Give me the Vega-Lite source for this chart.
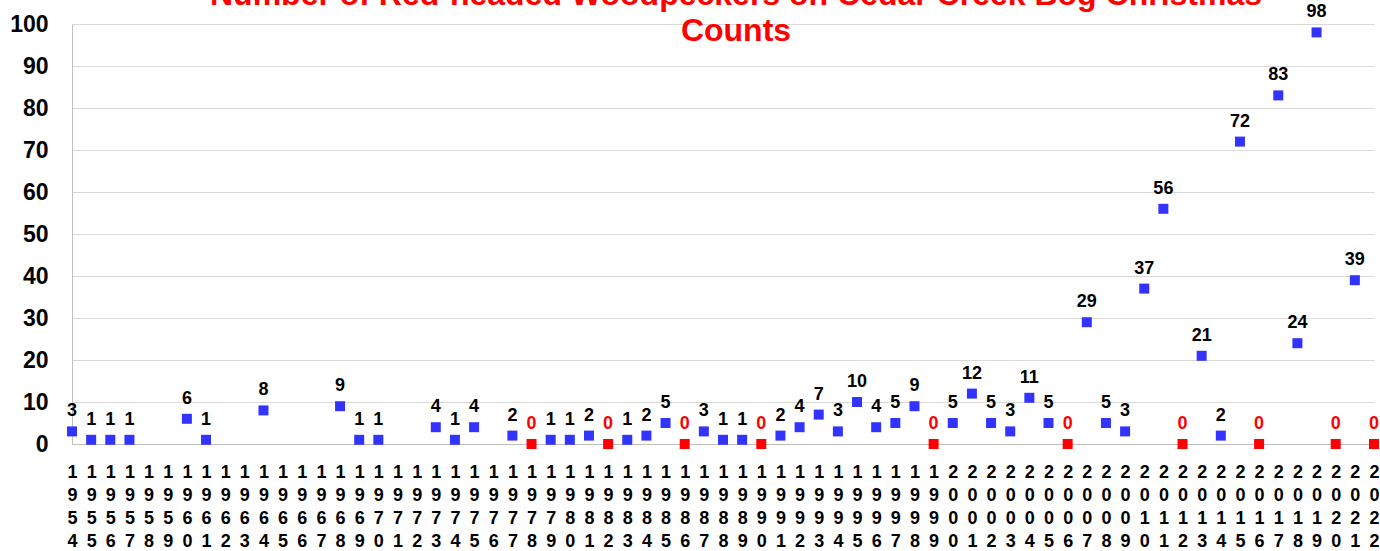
{
  "$schema": "https://vega.github.io/schema/vega-lite/v6.json",
  "width": 1302,
  "height": 420,
  "autosize": {"type": "none"},
  "padding": {"left": 72, "top": 24, "right": 6, "bottom": 107},
  "background": "white",
  "title": {
    "text": ["Number of Red-headed Woodpeckers on Cedar Creek Bog Christmas", "Counts"],
    "font": "Liberation Sans",
    "fontSize": 32,
    "fontWeight": "bold",
    "color": "#ff0000",
    "lineHeight": 36,
    "anchor": "middle",
    "offset": 0,
    "dx": 13,
    "dy": 45
  },
  "data": {
    "values": [
      {"year": 1954, "count": 3}, {"year": 1955, "count": 1}, {"year": 1956, "count": 1}, {"year": 1957, "count": 1},
      {"year": 1960, "count": 6}, {"year": 1961, "count": 1}, {"year": 1964, "count": 8}, {"year": 1968, "count": 9},
      {"year": 1969, "count": 1}, {"year": 1970, "count": 1}, {"year": 1973, "count": 4}, {"year": 1974, "count": 1},
      {"year": 1975, "count": 4}, {"year": 1977, "count": 2}, {"year": 1978, "count": 0}, {"year": 1979, "count": 1},
      {"year": 1980, "count": 1}, {"year": 1981, "count": 2}, {"year": 1982, "count": 0}, {"year": 1983, "count": 1},
      {"year": 1984, "count": 2}, {"year": 1985, "count": 5}, {"year": 1986, "count": 0}, {"year": 1987, "count": 3},
      {"year": 1988, "count": 1}, {"year": 1989, "count": 1}, {"year": 1990, "count": 0}, {"year": 1991, "count": 2},
      {"year": 1992, "count": 4}, {"year": 1993, "count": 7}, {"year": 1994, "count": 3}, {"year": 1995, "count": 10},
      {"year": 1996, "count": 4}, {"year": 1997, "count": 5}, {"year": 1998, "count": 9}, {"year": 1999, "count": 0},
      {"year": 2000, "count": 5}, {"year": 2001, "count": 12}, {"year": 2002, "count": 5}, {"year": 2003, "count": 3},
      {"year": 2004, "count": 11}, {"year": 2005, "count": 5}, {"year": 2006, "count": 0}, {"year": 2007, "count": 29},
      {"year": 2008, "count": 5}, {"year": 2009, "count": 3}, {"year": 2010, "count": 37}, {"year": 2011, "count": 56},
      {"year": 2012, "count": 0}, {"year": 2013, "count": 21}, {"year": 2014, "count": 2}, {"year": 2015, "count": 72},
      {"year": 2016, "count": 0}, {"year": 2017, "count": 83}, {"year": 2018, "count": 24}, {"year": 2019, "count": 98},
      {"year": 2020, "count": 0}, {"year": 2021, "count": 39}, {"year": 2022, "count": 0}
    ]
  },
  "encoding": {
    "x": {
      "field": "year",
      "type": "quantitative",
      "scale": {"domain": [1954, 2022], "nice": false, "zero": false},
      "axis": {
        "values": [1954,1955,1956,1957,1958,1959,1960,1961,1962,1963,1964,1965,1966,1967,1968,1969,1970,1971,1972,1973,1974,1975,1976,1977,1978,1979,1980,1981,1982,1983,1984,1985,1986,1987,1988,1989,1990,1991,1992,1993,1994,1995,1996,1997,1998,1999,2000,2001,2002,2003,2004,2005,2006,2007,2008,2009,2010,2011,2012,2013,2014,2015,2016,2017,2018,2019,2020,2021,2022],
        "format": "d",
        "labelExpr": "split(datum.label, '')",
        "labelFont": "Liberation Sans",
        "labelFontSize": 18,
        "labelFontWeight": "bold",
        "labelColor": "#000000",
        "labelLineHeight": 23.3,
        "labelPadding": 19,
        "labelAngle": 0,
        "labelOverlap": false,
        "labelFlush": false,
        "labelBound": false,
        "ticks": false,
        "grid": false,
        "domainColor": "#bfbfbf",
        "title": null
      }
    },
    "y": {
      "field": "count",
      "type": "quantitative",
      "scale": {"domain": [0, 100], "nice": false},
      "axis": {
        "values": [0, 10, 20, 30, 40, 50, 60, 70, 80, 90, 100],
        "labelFont": "Liberation Sans",
        "labelFontSize": 23,
        "labelFontWeight": "bold",
        "labelColor": "#000000",
        "labelPadding": 24,
        "ticks": false,
        "gridColor": "#d9d9d9",
        "gridWidth": 1,
        "domainColor": "#bfbfbf",
        "title": null
      }
    }
  },
  "layer": [
    {
      "mark": {"type": "point", "shape": "square", "filled": true, "size": 100, "opacity": 1, "clip": false},
      "encoding": {
        "color": {"condition": {"test": "datum.count == 0", "value": "#ff0000"}, "value": "#3333ff"}
      }
    },
    {
      "mark": {"type": "text", "dy": -20, "font": "Liberation Sans", "fontSize": 18, "fontWeight": "bold"},
      "encoding": {
        "text": {"field": "count", "type": "quantitative"},
        "color": {"condition": {"test": "datum.count == 0", "value": "#ff0000"}, "value": "#000000"}
      }
    }
  ],
  "config": {"view": {"stroke": null}}
}
